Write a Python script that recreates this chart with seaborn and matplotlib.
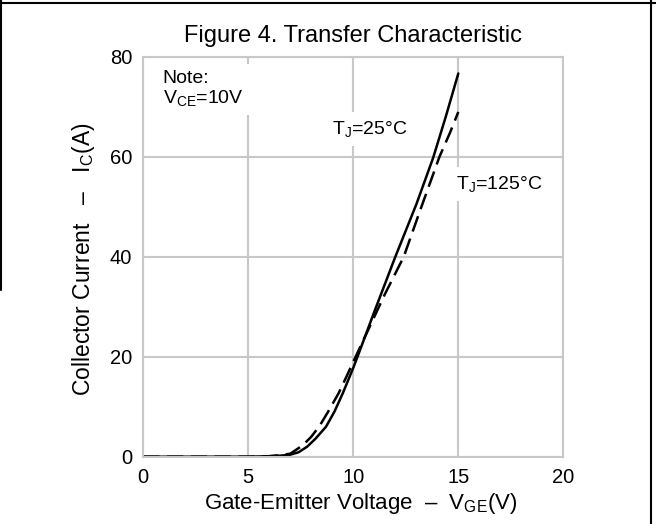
import matplotlib
matplotlib.use("Agg")
import matplotlib.pyplot as plt
from matplotlib.lines import Line2D
import seaborn as sns
import pandas as pd

# ---- data ----
vge_25 = [0, 1, 2, 3, 4, 5, 6, 6.5, 7.0, 7.4, 7.8, 8.2, 8.7, 9.1, 9.5, 10.0, 10.2, 11.0, 12.0, 13.0, 13.8, 14.4, 15.0]
ic_25 = [0, 0, 0, 0, 0, 0, 0.1, 0.2, 0.4, 0.9, 2.0, 3.6, 6.0, 9.0, 12.7, 17.8, 20.0, 29.0, 40.0, 50.5, 59.8, 68.0, 76.7]

vge_125 = [0, 1, 2, 3, 4, 5, 6, 6.5, 7.0, 7.6, 8.0, 8.4, 8.8, 9.3, 9.65, 10.0, 10.5, 11.0, 11.5, 12.4, 13.2, 14.1, 14.6, 15.0]
ic_125 = [0, 0, 0, 0, 0, 0, 0.1, 0.3, 0.6, 2.3, 4.0, 6.2, 9.0, 12.7, 15.8, 19.0, 23.5, 28.0, 32.5, 40.0, 49.5, 60.0, 64.8, 69.0]

x_ticks = [0, 5, 10, 15, 20]
y_ticks = [0, 20, 40, 60, 80]

title = "Figure 4. Transfer Characteristic"
x_label = r"Gate-Emitter Voltage  –  $\mathregular{V_{GE}}$(V)"
y_label = r"Collector Current   –   $\mathregular{I_{C}}$(A)"

df25 = pd.DataFrame({"VGE": vge_25, "IC": ic_25})
df125 = pd.DataFrame({"VGE": vge_125, "IC": ic_125})

sns.set_theme(style="whitegrid")
plt.rcParams["font.family"] = ["Liberation Sans", "DejaVu Sans"]
plt.rcParams["mathtext.fontset"] = "custom"
plt.rcParams["mathtext.rm"] = "Liberation Sans"

fig = plt.figure(figsize=(6.56, 5.24), dpi=100)
fig.patch.set_facecolor("white")
ax = fig.add_axes([143.3 / 656, 1 - 456.7 / 524, 420 / 656, 399.7 / 524])
ax.set_facecolor("white")

sns.lineplot(data=df25, x="VGE", y="IC", ax=ax, color="black", linewidth=1.8,
             sort=False, estimator=None)
sns.lineplot(data=df125, x="VGE", y="IC", ax=ax, color="black", linewidth=1.8,
             sort=False, estimator=None, linestyle=(0, (6.5, 3.0)))

ax.set_xlim(0, 20)
ax.set_ylim(0, 80)
ax.set_xticks(x_ticks)
ax.set_yticks(y_ticks)
ax.tick_params(axis="both", labelsize=14.5, length=0, pad=8, colors="black")
ax.grid(True, color="#c8c8c8", linewidth=1.5)
for s in ax.spines.values():
    s.set_visible(True)
    s.set_color("#c8c8c8")
    s.set_linewidth(1.5)

ax.set_xlabel(x_label, fontsize=16.0, color="black")
ax.set_ylabel(y_label, fontsize=16.5, color="black")
ax.xaxis.set_label_coords(0.5 + 7 / 420, (456.7 - 491) / 399.7)
ax.yaxis.set_label_coords((97 - 143.3) / 420, 0.495)

ax.text(0.5, 1 + (456.7 - 42 - 399.7) / 399.7, title, transform=ax.transAxes,
        ha="center", va="baseline", fontsize=17, color="black")

box = dict(facecolor="white", edgecolor="none", pad=5)
ax.text(0.93, 77.4, "Note:\n" + r"$\mathregular{V_{CE}}$=10V", ha="left", va="top",
        fontsize=14, linespacing=1.1, bbox=box, color="black")
ax.text(9.0, 64.6, r"$\mathregular{T_{J}}$=25°C", ha="left", va="baseline",
        fontsize=14, bbox=box, color="black")
ax.text(14.9, 53.5, r"$\mathregular{T_{J}}$=125°C", ha="left", va="baseline",
        fontsize=14, bbox=box, color="black")

# figure frame lines
fig.add_artist(Line2D([0, 1], [1 - 2.5 / 524, 1 - 2.5 / 524], transform=fig.transFigure,
                      color="black", linewidth=1.5))
fig.add_artist(Line2D([650.5 / 656, 650.5 / 656], [0, 1], transform=fig.transFigure,
                      color="black", linewidth=1.5))
fig.add_artist(Line2D([1 / 656, 1 / 656], [1 - 290 / 524, 1], transform=fig.transFigure,
                      color="black", linewidth=1.5))

fig.savefig("out.png", dpi=100, facecolor="white")
